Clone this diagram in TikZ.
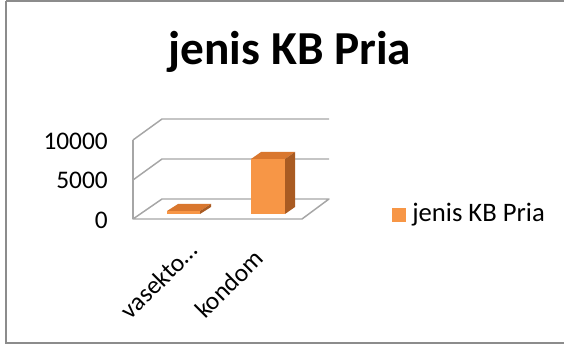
\documentclass[tikz,border=0pt]{standalone}
\usepackage{fontspec}
\setmainfont{Carlito}
\usepackage{tikz}

\definecolor{barfront}{HTML}{F79646}
\definecolor{bartop}{HTML}{D9772E}
\definecolor{barside}{HTML}{A95B22}
\definecolor{gridgray}{HTML}{A6A6A6}
\definecolor{framegray}{HTML}{8C8C8C}

\tikzset{
  gridline/.style={gridgray, line width=1.1pt, line join=round},
  ticklabel/.style={anchor=east, font=\fontsize{19}{19}\selectfont, inner sep=0pt},
  catlabel/.style={anchor=east, rotate=45, font=\fontsize{19}{19}\selectfont, inner sep=0pt},
}

\begin{document}
\begin{tikzpicture}[x=0.75pt, y=-0.75pt]
\useasboundingbox (0,0) rectangle (564,345);
\draw[framegray, line width=1.5pt] (6,1) -- (566,1);
\draw[framegray, line width=1.5pt] (6,1) -- (6,343) -- (566,343);

\node[font=\bfseries\fontsize{35.5}{35.5}\selectfont] (title) at (290,52) {jenis KB Pria};

% walls and floor
\draw[gridline] (133,140) -- (162,119) -- (329,119);
\draw[gridline] (133,180) -- (162,159) -- (329,159);
\draw[gridline] (133,219) -- (162,199) -- (329,199) -- (302,219) -- cycle;
\draw[gridline] (133,140) -- (133,219);

\node[ticklabel] (t10000) at (108,141) {10000};
\node[ticklabel] (t5000) at (108,180) {5000};
\node[ticklabel] (t0) at (108,220) {0};

% bar vasektomi
\fill[barfront] (167,211) rectangle (200,214);
\fill[bartop] (167,211) -- (200,211) -- (211,204) -- (178,204) -- cycle;
\fill[barside] (200,211) -- (211,204) -- (211,207) -- (200,214) -- cycle;

% bar kondom
\fill[barfront] (251,159) rectangle (285,214);
\fill[bartop] (251,159) -- (285,159) -- (295,152) -- (261,152) -- cycle;
\fill[barside] (285,159) -- (295,152) -- (295,207) -- (285,214) -- cycle;

\node[catlabel] (vas) at (193,246) {vasekto…};
\node[catlabel] (kon) at (259,254) {kondom};

% legend
\fill[barfront] (392,208) rectangle (406,222) node[coordinate] (key) {};
\node[anchor=west, font=\fontsize{20}{20}\selectfont, inner sep=0pt] (leg) at (412,215) {jenis KB Pria};
\end{tikzpicture}
\end{document}
